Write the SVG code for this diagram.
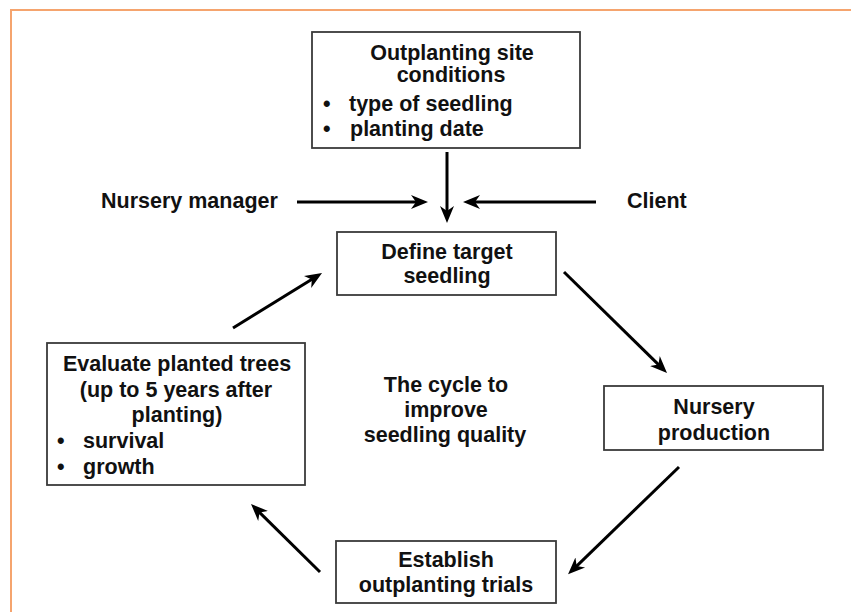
<svg xmlns="http://www.w3.org/2000/svg" width="851" height="612" viewBox="0 0 851 612">
<defs>
<style>
.frame{fill:none;stroke:#F5A46E;stroke-width:2}
.box{fill:#fff;stroke:#3a3a3a;stroke-width:1.8}
.t{font-family:"Liberation Sans",Arial,sans-serif;font-size:21.5px;font-weight:bold;fill:#111}
.c{text-anchor:middle}
.arrow{fill:none;stroke:#000;stroke-width:3;marker-end:url(#ah)}
</style>
<marker id="ah" markerUnits="userSpaceOnUse" markerWidth="18" markerHeight="16" refX="9" refY="8" orient="auto">
<path d="M0,1 L17,8 L0,15 L5,8 Z" fill="#000"/>
</marker>
</defs>
<rect width="851" height="612" fill="#fff"/>
<path class="frame" d="M11,612 V10 H851"/>

<g id="site">
<rect class="box" x="312" y="32" width="268" height="116"/>
<text class="t c" x="452" y="60">Outplanting site</text>
<text class="t c" x="451" y="82">conditions</text>
<text class="t" x="323" y="111">•</text>
<text class="t" x="349" y="111">type of seedling</text>
<text class="t" x="323" y="136">•</text>
<text class="t" x="350" y="136">planting date</text>
</g>

<g id="manager"><text class="t" x="101" y="208">Nursery manager</text></g>
<g id="client"><text class="t" x="627" y="208">Client</text></g>

<g id="define">
<rect class="box" x="337" y="232" width="219" height="63"/>
<text class="t c" x="447" y="259">Define target</text>
<text class="t c" x="447" y="283">seedling</text>
</g>

<g id="evaluate">
<rect class="box" x="47" y="343" width="258" height="142"/>
<text class="t c" x="177" y="371">Evaluate planted trees</text>
<text class="t c" x="176" y="397">(up to 5 years after</text>
<text class="t c" x="177" y="422">planting)</text>
<text class="t" x="57" y="448">•</text>
<text class="t" x="83" y="448">survival</text>
<text class="t" x="57" y="474">•</text>
<text class="t" x="83" y="474">growth</text>
</g>

<g id="cycle">
<text class="t c" x="446" y="392">The cycle to</text>
<text class="t c" x="446" y="417">improve</text>
<text class="t c" x="445" y="442">seedling quality</text>
</g>

<g id="production">
<rect class="box" x="604" y="386" width="219" height="64"/>
<text class="t c" x="714" y="414">Nursery</text>
<text class="t c" x="714" y="440">production</text>
</g>

<g id="trials">
<rect class="box" x="336" y="541" width="220" height="62"/>
<text class="t c" x="446" y="567">Establish</text>
<text class="t c" x="446" y="592">outplanting trials</text>
</g>

<g id="connectors">
<path class="arrow" d="M297,202 H420"/>
<path class="arrow" d="M596,202 H471"/>
<path class="arrow" d="M447,152 V215"/>
<path class="arrow" d="M564,272 L661.3,367.4"/>
<path class="arrow" d="M679,467 L573.8,568.8"/>
<path class="arrow" d="M320,572 L256.7,509.6"/>
<path class="arrow" d="M233,328 L315.2,277.3"/>
</g>
</svg>
